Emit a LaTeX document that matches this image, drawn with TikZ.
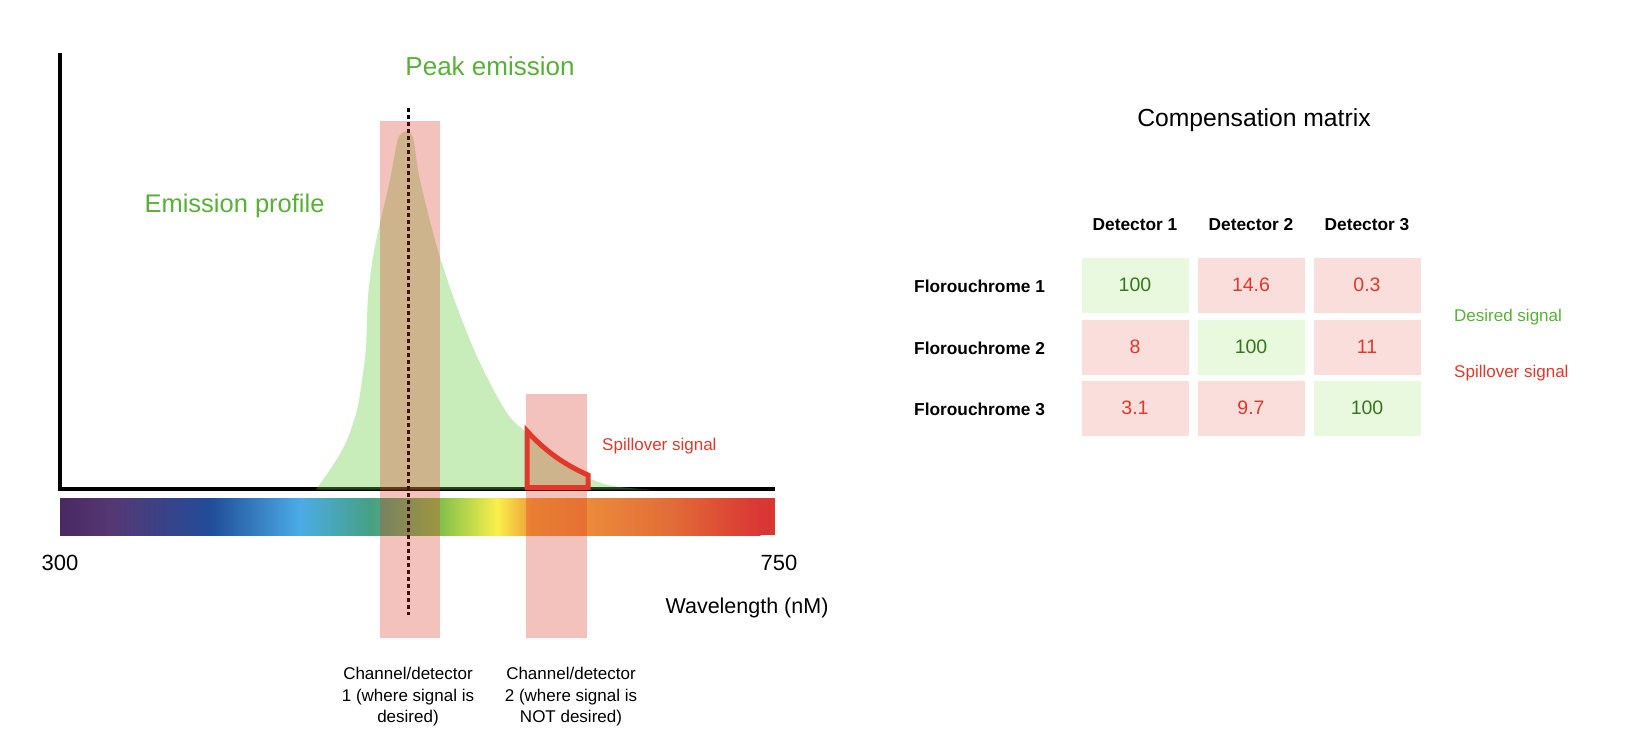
\documentclass[tikz,border=0pt]{standalone}
\usepackage{fontspec}
\setmainfont{Liberation Sans}
\definecolor{grn}{RGB}{88,176,56}
\definecolor{sred}{RGB}{224,56,42}
\definecolor{cgreen}{RGB}{232,249,221}
\definecolor{cred}{RGB}{250,222,220}
\definecolor{dgreen}{RGB}{56,118,29}
\definecolor{fillgreen}{RGB}{100,200,60}
\definecolor{pinkc}{RGB}{218,52,35}
\definecolor{s0}{RGB}{74,40,98}
\definecolor{s1}{RGB}{85,56,116}
\definecolor{s2}{RGB}{33,76,152}
\definecolor{s3}{RGB}{75,172,230}
\definecolor{s4}{RGB}{70,160,132}
\definecolor{s5}{RGB}{135,195,75}
\definecolor{s6}{RGB}{250,240,75}
\definecolor{s7}{RGB}{240,160,58}
\definecolor{s8}{RGB}{226,108,56}
\definecolor{s9}{RGB}{217,54,52}
\begin{document}
\begin{tikzpicture}[x=1pt,y=-1pt,
  big/.style={inner sep=0pt, font=\fontsize{26}{28}\selectfont, text=grn},
  mid/.style={inner sep=0pt, font=\fontsize{22}{24}\selectfont},
  small/.style={inner sep=0pt, font=\fontsize{17}{21.5}\selectfont},
  smallb/.style={inner sep=0pt, font=\fontsize{17.3}{20}\selectfont\bfseries},
  cell/.style={minimum width=107pt, minimum height=55pt, inner sep=0pt, font=\fontsize{19.5}{20}\selectfont},
  gcell/.style={cell, fill=cgreen, text=dgreen},
  rcell/.style={cell, fill=cred, text=sred},
  band/.style={fill=pinkc, fill opacity=0.3},
  axisline/.style={line width=4.5pt}]
\useasboundingbox (0,0) rectangle (1648,748);

% spectrum
\shade[left color=s0, right color=s1] (60,498) rectangle (113.5,535);
\shade[left color=s1, right color=s2] (113,498) rectangle (210.5,535);
\shade[left color=s2, right color=s3] (210,498) rectangle (300.5,535);
\shade[left color=s3, right color=s4] (300,498) rectangle (370.5,535);
\shade[left color=s4, right color=s5] (370,498) rectangle (443.5,535);
\shade[left color=s5, right color=s6] (443,498) rectangle (497.5,535);
\shade[left color=s6, right color=s7] (497,498) rectangle (530.5,535);
\shade[left color=s7, right color=s8] (530,498) rectangle (671.5,535);
\shade[left color=s8, right color=s9] (671,498) rectangle (760.5,535);
\fill[s9] (760,498) rectangle (775,535);

% axes
\coordinate (origin) at (60,489);
\coordinate (ytop) at (60,53);
\coordinate (xend) at (775,489);
\draw[axisline] (ytop) -- (origin) -- (xend);
\fill (origin) ++(-2.25,-2.25) rectangle ++(4.5,4.5);

% emission profile
\fill[fillgreen, fill opacity=0.35] plot[smooth, tension=0.55] coordinates {(316,489.5) (335,462) (347,440) (357,410) (362,380) (366,347) (368,297) (373,257) (380,223) (390,180) (397,142) (401,134) (406,131.5) (411,134) (414,142) (420,180) (437,247) (457,307) (480,363) (507,413) (527,433) (547,453) (587,477) (613,486) (650,489.5)} -- cycle;

% peak line
\coordinate (ptop) at (408,108);
\coordinate (pbot) at (408,615);
\draw[line width=3pt, dash pattern=on 3.5pt off 3.5pt] (ptop) -- (pbot);

% detector bands
\fill[band] (380,121) rectangle (440,638);
\fill[band] (526,394) rectangle (587,638);

% spillover region
\draw[sred, line width=5pt, line join=miter] (527,431) .. controls (545,451) and (565,465) .. (588,475) -- (588,487.5) -- (527,487.5) -- cycle;

% labels left
\node[big] (peak) at (490,66) {Peak emission};
\node[big, font=\fontsize{25.5}{27}\selectfont] (prof) at (234.5,206) {Emission profile};
\node[small, text=sred, anchor=west] (spill) at (602,446) {Spillover signal};
\node[mid] (n300) at (60,563) {300};
\node[mid] (n750) at (779,563) {750};
\node[mid, font=\fontsize{21.5}{24}\selectfont] (wl) at (747,608) {Wavelength (nM)};
\node[small, align=center] (ch1) at (408,697) {Channel/detector\\1 (where signal is\\desired)};
\node[small, align=center] (ch2) at (571,697) {Channel/detector\\2 (where signal is\\NOT desired)};

% matrix
\node[mid, font=\fontsize{24.7}{26}\selectfont] (title) at (1254,120) {Compensation matrix};
\node[smallb] (d1) at (1135,225) {Detector 1};
\node[smallb] (d2) at (1251,225) {Detector 2};
\node[smallb] (d3) at (1367,225) {Detector 3};
\node[smallb, anchor=west] (f1) at (914,286) {Florouchrome 1};
\node[smallb, anchor=west] (f2) at (914,348) {Florouchrome 2};
\node[smallb, anchor=west] (f3) at (914,409) {Florouchrome 3};
\node[gcell] (c11) at (1135,285) {100};
\node[rcell] (c12) at (1251,285) {14.6};
\node[rcell] (c13) at (1367,285) {0.3};
\node[rcell] (c21) at (1135,347) {8};
\node[gcell] (c22) at (1251,347) {100};
\node[rcell] (c23) at (1367,347) {11};
\node[rcell] (c31) at (1135,408) {3.1};
\node[rcell] (c32) at (1251,408) {9.7};
\node[gcell] (c33) at (1367,408) {100};
\node[small, text=grn, anchor=west] (des) at (1454,317) {Desired signal};
\node[small, text=sred, anchor=west] (spl) at (1454,373) {Spillover signal};
\end{tikzpicture}
\end{document}
